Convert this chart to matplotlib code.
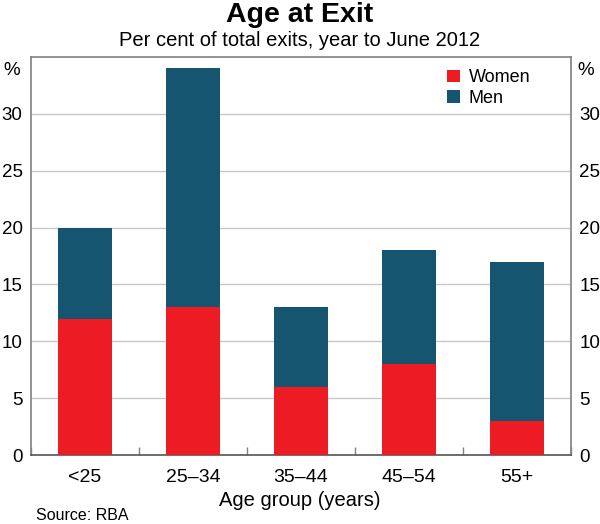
import matplotlib
matplotlib.use('Agg')
import matplotlib.pyplot as plt
import numpy as np

plt.rcParams['font.family'] = ['Liberation Sans', 'DejaVu Sans']

groups = ['<25', '25–34', '35–44', '45–54', '55+']
women = [12, 13, 6, 8, 3]
men = [8, 21, 7, 10, 14]

red = '#ED1C24'
blue = '#15556F'
grid = '#C8C8C8'
frame = '#808080'

fig = plt.figure(figsize=(6, 5.24), dpi=100)
ax = fig.add_axes([31 / 600, 1 - 455 / 524, 540 / 600, 398 / 524])

x = np.arange(len(groups))
ax.bar(x, women, width=0.5, color=red, label='Women', zorder=3)
ax.bar(x, men, width=0.5, bottom=women, color=blue, label='Men', zorder=3)

ax.set_xlim(-0.5, len(groups) - 0.5)
ax.set_ylim(0, 35)
ticks = [0, 5, 10, 15, 20, 25, 30]
ax.set_yticks(ticks)
ax.yaxis.grid(True, color=grid, linewidth=1, zorder=0)
ax.tick_params(axis='y', length=0, labelsize=13.5, pad=6,
               labelright=True, right=False, colors='#000000')

# categories labelled in the middle, ticks at the boundaries
ax.set_xticks(x)
ax.set_xticklabels(groups, fontsize=14)
ax.tick_params(axis='x', length=0, pad=10)
ax.set_xticks(np.arange(len(groups) + 1) - 0.5, minor=True)
ax.tick_params(axis='x', which='minor', direction='in', length=6, color=frame, width=1)

for s in ['left', 'right', 'top']:
    ax.spines[s].set_color(frame)
    ax.spines[s].set_linewidth(1.2)
ax.spines['bottom'].set_color('#555555')
ax.spines['bottom'].set_linewidth(1.2)

ax.text(-0.02, 0.965, '%', transform=ax.transAxes, ha='right', va='center', fontsize=13.5)
ax.text(1.012, 0.965, '%', transform=ax.transAxes, ha='left', va='center', fontsize=13.5)

ax.legend(loc='upper right', bbox_to_anchor=(0.955, 1.01), frameon=False, fontsize=13,
          handlelength=0.7, handleheight=0.7, handletextpad=0.5, labelspacing=0.2)

fig.text(0.5, 1 - 15 / 524, 'Age at Exit', ha='center', va='center', fontsize=20.5, fontweight='bold')
fig.text(0.5, 1 - 41 / 524, 'Per cent of total exits, year to June 2012', ha='center', va='center', fontsize=14.5)
fig.text(0.5, 1 - 506 / 524, 'Age group (years)', ha='center', va='baseline', fontsize=14.5)
fig.text(36 / 600, 1 - 520 / 524, 'Source: RBA', ha='left', va='baseline', fontsize=11.5)

fig.savefig('out.png', dpi=100)
